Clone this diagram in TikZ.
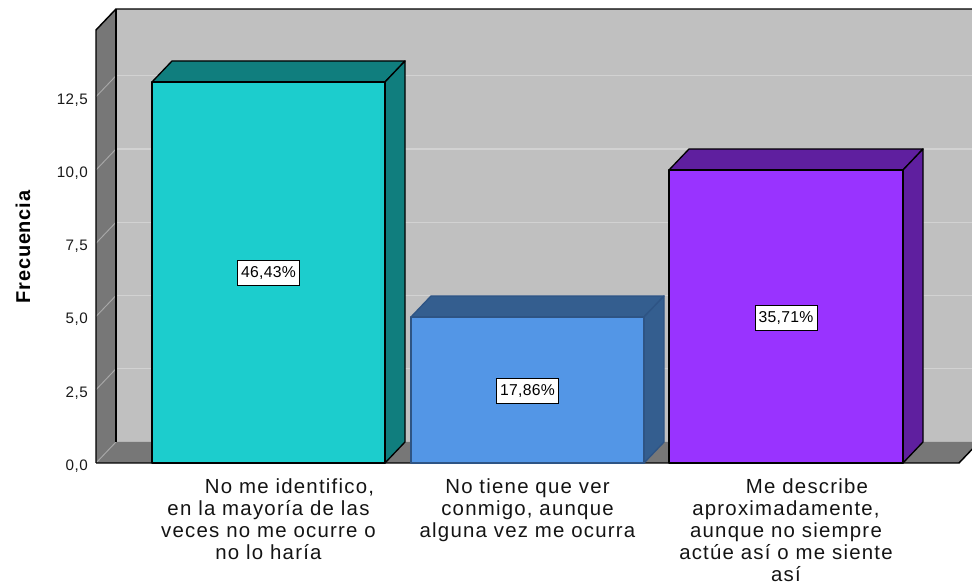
\documentclass[tikz,border=0pt]{standalone}
\usepackage{fontspec}
\setmainfont{Liberation Sans}
\newfontfamily\labfont[LetterSpace=6]{Liberation Sans}
\newfontfamily\tickfont[LetterSpace=3]{Liberation Sans}
\newfontfamily\pctfont[LetterSpace=2]{Liberation Sans}
\newfontfamily\axfont[LetterSpace=4]{Liberation Sans}
\definecolor{backwall}{HTML}{C0C0C0}
\definecolor{sidewall}{HTML}{777777}
\definecolor{gridb}{HTML}{D2D2D2}
\definecolor{gridl}{HTML}{A8A8A8}
\definecolor{cyanF}{HTML}{1CCDCD}
\definecolor{cyanS}{HTML}{107E7E}
\definecolor{blueF}{HTML}{5396E6}
\definecolor{blueS}{HTML}{345E8F}
\definecolor{blueE}{HTML}{2E5484}
\definecolor{purpF}{HTML}{9933FF}
\definecolor{purpS}{HTML}{5F1F9F}
\begin{document}
\begin{tikzpicture}[x=0.75pt,y=-0.75pt,
  edge/.style={draw=black,line width=1.1pt,line join=round},
  gridback/.style={draw=gridb,line width=0.9pt},
  gridleft/.style={draw=gridl,line width=0.7pt},
  baredge/.style={line width=1.0pt,line join=round},
  pct/.style={draw=black,line width=0.6pt,fill=white,inner xsep=2.6pt,inner ysep=0pt,minimum height=18.5pt,font=\pctfont\fontsize{11.8}{13}\selectfont},
  tick/.style={anchor=east,inner sep=0pt,font=\tickfont\fontsize{11.4}{13}\selectfont,text=black!90},
  cat/.style={anchor=north,inner sep=0pt,align=center,font=\labfont\fontsize{15.3}{16.5}\selectfont,text=black!92}]
\useasboundingbox (0,0) rectangle (972,584);
\clip (0,0) rectangle (972,584);
% back wall
\fill[backwall] (116,9) rectangle (990,442);
\foreach \k in {1,...,5} \draw[gridback] (116,{442-\k*73.25}) -- (990,{442-\k*73.25});
% left wall
\fill[sidewall] (96,30) -- (116,9) -- (116,442) -- (96,463) -- cycle;
\foreach \k in {1,...,5} \draw[gridleft] (96,{463-\k*73.25}) -- (116,{442-\k*73.25});
% floor
\fill[sidewall] (96,463) -- (116,442) -- (979,442) -- (959,463) -- cycle;
\draw[gridleft] (96,463) -- (116,442);
% frame edges
\draw[edge] (96,463) -- (96,30) -- (116,9) -- (990,9);
\draw[edge] (116,9) -- (116,442);
\draw[edge] (96,463) -- (959,463) -- (979,442);
% bar 1
\filldraw[baredge,fill=cyanS,draw=black] (152,82) -- (172,61) -- (405,61) -- (385,82) -- cycle;
\filldraw[baredge,fill=cyanS,draw=black] (385,82) -- (405,61) -- (405,442) -- (385,463) -- cycle;
\filldraw[baredge,fill=cyanF,draw=black] (152,82) rectangle (385,463);
% bar 2
\filldraw[baredge,fill=blueS,draw=blueE] (411,317) -- (431,296) -- (664,296) -- (644,317) -- cycle;
\filldraw[baredge,fill=blueS,draw=blueE] (644,317) -- (664,296) -- (664,442) -- (644,463) -- cycle;
\filldraw[baredge,fill=blueF,draw=blueE] (411,317) rectangle (644,463);
% bar 3
\filldraw[baredge,fill=purpS,draw=black] (669,170) -- (689,149) -- (923,149) -- (903,170) -- cycle;
\filldraw[baredge,fill=purpS,draw=black] (903,170) -- (923,149) -- (923,442) -- (903,463) -- cycle;
\filldraw[baredge,fill=purpF,draw=black] (669,170) rectangle (903,463);
% percentage labels
\node[pct] (p1) at (268.5,273) {46,43\%};
\node[pct] (p2) at (527.5,391) {17,86\%};
\node[pct] (p3) at (786,318) {35,71\%};
% tick labels
\node[tick] (t0) at (88,466) {0,0};
\node[tick] (t1) at (88,{466-73.25}) {2,5};
\node[tick] (t2) at (88,{466-2*73.25}) {5,0};
\node[tick] (t3) at (88,{466-3*73.25}) {7,5};
\node[tick] (t4) at (88,{466-4*73.25}) {10,0};
\node[tick] (t5) at (88,{466-5*73.25}) {12,5};
% axis title
\node[rotate=90,inner sep=0pt,font=\axfont\bfseries\fontsize{15}{16}\selectfont] (ylab) at (23,247) {Frecuencia};
% category labels
\node[cat] (c1) at (268.5,478) {\hspace*{31.5pt}No me identifico,\\en la mayoría de las\\veces no me ocurre o\\no lo haría};
\node[cat] (c2) at (527.5,478) {No tiene que ver\\conmigo, aunque\\alguna vez me ocurra};
\node[cat] (c3) at (786,478) {\hspace*{31.5pt}Me describe\\aproximadamente,\\aunque no siempre\\actúe así o me siente\\así};
\end{tikzpicture}
\end{document}
